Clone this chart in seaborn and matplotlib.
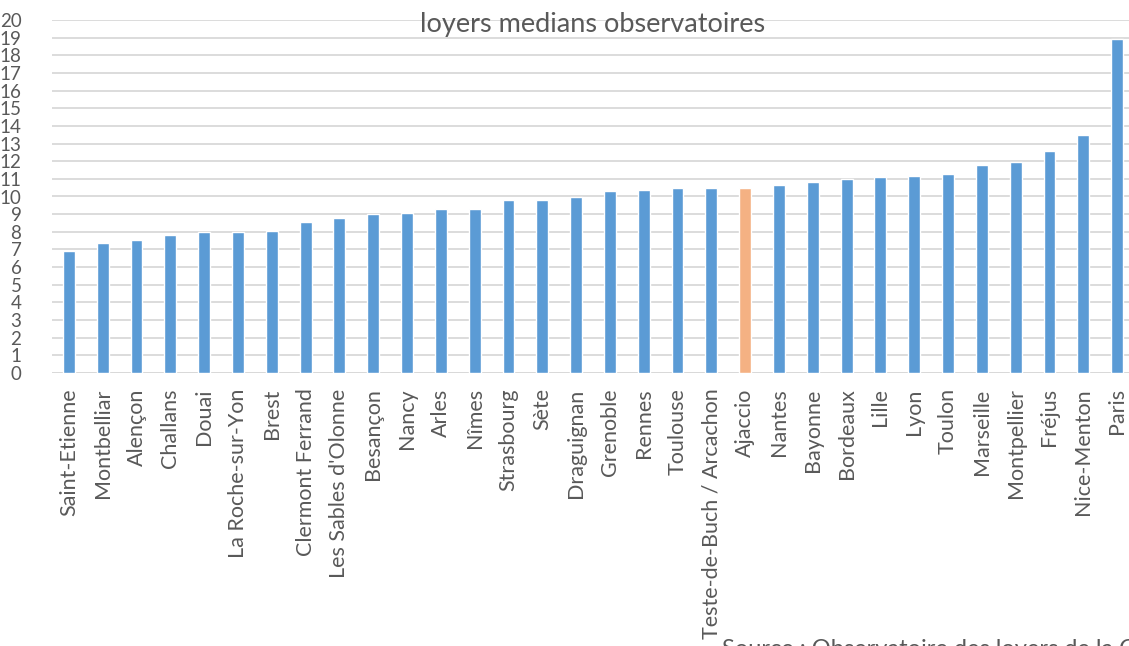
import numpy as np
import pandas as pd
import matplotlib
matplotlib.use('Agg')
import matplotlib.pyplot as plt
import seaborn as sns

# ==================== données ====================
villes = ["Saint-Etienne", "Montbelliar", "Alençon", "Challans", "Douai",
          "La Roche-sur-Yon", "Brest", "Clermont Ferrand", "Les Sables d'Olonne",
          "Besançon", "Nancy", "Arles", "Nîmes", "Strasbourg", "Sète",
          "Draguignan", "Grenoble", "Rennes", "Toulouse",
          "Teste-de-Buch / Arcachon", "Ajaccio", "Nantes", "Bayonne", "Bordeaux",
          "Lille", "Lyon", "Toulon", "Marseille", "Montpellier", "Fréjus",
          "Nice-Menton", "Paris"]
loyers = [6.92, 7.38, 7.55, 7.84, 8.0, 8.0, 8.05, 8.55, 8.78, 9.01,
          9.07, 9.29, 9.29, 9.8, 9.8, 9.97, 10.31, 10.37, 10.47, 10.47,
          10.47, 10.65, 10.82, 10.99, 11.09, 11.16, 11.27, 11.78, 11.95,
          12.58, 13.48, 18.92]
ville_mise_en_avant = "Ajaccio"
titre = "loyers medians observatoires"
source = "Source : Observatoire des loyers de la CAF"

df = pd.DataFrame({"ville": villes, "loyer": loyers})
couleurs = {v: ("#F4B183" if v == ville_mise_en_avant else "#5B9BD5") for v in villes}

sns.set_style("white")
plt.rcParams['font.family'] = ['Lato', 'DejaVu Sans']

fig = plt.figure(figsize=(11.29, 6.46), dpi=100)
ax = fig.add_axes([52 / 1129, 273 / 646, 1082 / 1129, 353 / 646])

sns.barplot(data=df, x="ville", y="loyer", hue="ville", palette=couleurs,
            legend=False, width=0.35, saturation=1, ax=ax)

ax.set_ylim(0, 20)
ax.set_xlim(-0.5, len(villes) - 0.5)
ax.set_yticks(range(0, 21))
ax.yaxis.grid(True, color="#d9d9d9", linewidth=1.3)
ax.set_axisbelow(True)
sns.despine(ax=ax, left=True, right=True, top=True, bottom=True)
ax.axhline(0, color="#d9d9d9", linewidth=1.3, zorder=0)

ax.set_xlabel("")
ax.set_ylabel("")
ax.tick_params(axis='x', rotation=90, labelsize=15.5, colors="#595959", length=0, pad=11)
ax.tick_params(axis='y', labelsize=13.5, colors="#595959", length=0, pad=22)
for lbl in ax.get_xticklabels():
    lbl.set_va('top')

ax.set_title(titre, fontsize=19.5, color="#595959", y=0.965, va='center')

# source en bas à droite, coupée par le bord comme sur l'original
fig.text(722 / 1129, -10 / 646, source, fontsize=17, color="#595959", va='baseline')

plt.savefig('out.png', dpi=100)
